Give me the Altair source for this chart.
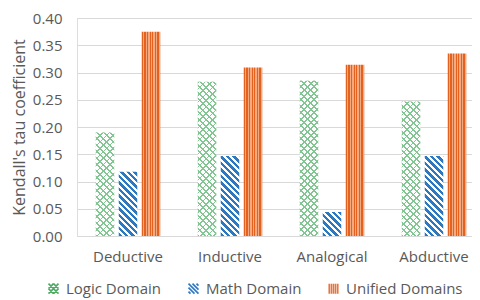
import altair as alt
import pandas as pd

categories = ["Deductive", "Inductive", "Analogical", "Abductive"]
series = ["Logic Domain", "Math Domain", "Unified Domains"]
logic = [0.190, 0.283, 0.285, 0.247]
math = [0.118, 0.147, 0.044, 0.147]
unified = [0.375, 0.309, 0.314, 0.335]
y_ticks = [0.0, 0.05, 0.10, 0.15, 0.20, 0.25, 0.30, 0.35, 0.40]

rows = []
for s, vals in zip(series, [logic, math, unified]):
    for c, v in zip(categories, vals):
        rows.append({"category": c, "series": s, "value": v})
df = pd.DataFrame(rows)

FONT = "Open Sans"
TXT = "#595959"
PLOT_W, PLOT_H, Y_MAX = 395, 218, 0.40
X_RANGE = 408
X_PAD = 0.3676
OFF_PAD = 0.1957
BAR_W = (X_RANGE / 4 * (1 - X_PAD)) / (3 - OFF_PAD) * (1 - OFF_PAD)

GREEN_LINE = "#84c594"
BLUE = "#2e78c0"
OR_DARK = "#e3621f"
OR_LIGHT = "#f5a97e"
CLEAR = "rgba(255,255,255,0)"


def stripes(total, period, on, c_on, c_off):
    stops = []
    pos = 0.0
    while pos < total:
        a, b, c = pos, min(pos + on, total), min(pos + period, total)
        stops += [(a, c_on), (b, c_on)]
        if c > b:
            stops += [(b, c_off), (c, c_off)]
        pos += period
    return [{"offset": round(o / total, 5), "color": col} for o, col in stops]


def diag(value, kind, period, on, c_on, c_off):
    w = BAR_W
    h = value / Y_MAX * PLOT_H
    k = (w + h) / (w * w + h * h)
    if kind == "down":
        g = {"x1": 0, "y1": 1, "x2": round(k * w, 6), "y2": round(1 - k * h, 6)}
    else:
        g = {"x1": 0, "y1": 0, "x2": round(k * w, 6), "y2": round(k * h, 6)}
    g["gradient"] = "linear"
    g["stops"] = stripes(w + h, period, on, c_on, c_off)
    return g


def by_category(grads, default):
    return {
        "condition": [
            {"test": f"datum.category === '{c}'", "value": g}
            for c, g in zip(categories, grads)
        ],
        "value": default,
    }


x_enc = alt.X(
    "category:N",
    sort=categories,
    scale=alt.Scale(range=[0, X_RANGE], paddingInner=X_PAD, paddingOuter=X_PAD / 2),
    axis=alt.Axis(
        title=None, labelAngle=0, ticks=False, domain=True, domainColor="#d9d9d9",
        labelPadding=13, labelFontSize=15, labelColor=TXT, labelFont=FONT, grid=False,
    ),
)
xoff_enc = alt.XOffset(
    "series:N", sort=series,
    scale=alt.Scale(domain=series, paddingInner=OFF_PAD, paddingOuter=0),
)
y_enc = alt.Y(
    "value:Q",
    scale=alt.Scale(domain=[0, Y_MAX], nice=False),
    axis=alt.Axis(
        values=y_ticks, format=".2f", title="Kendall's tau coefficient",
        grid=True, gridColor="#d9d9d9", domain=False, ticks=False,
        labelPadding=15, labelFontSize=15, labelColor=TXT, labelFont=FONT,
        titleFontSize=16, titleFontWeight="normal", titleColor=TXT, titleFont=FONT,
        titlePadding=5,
    ),
)

base = alt.Chart(df)

green1 = base.transform_filter(f"datum.series === '{series[0]}'").mark_bar().encode(
    x=x_enc, xOffset=xoff_enc, y=y_enc,
    fill=by_category([diag(v, "down", 6.5, 1.8, GREEN_LINE, "#ffffff") for v in logic], "#b5dfbf"),
)
green2 = base.transform_filter(f"datum.series === '{series[0]}'").mark_bar().encode(
    x=x_enc, xOffset=xoff_enc, y=y_enc,
    fill=by_category([diag(v, "up", 6.5, 1.8, GREEN_LINE, CLEAR) for v in logic], CLEAR),
)
blue = base.transform_filter(f"datum.series === '{series[1]}'").mark_bar().encode(
    x=x_enc, xOffset=xoff_enc, y=y_enc,
    fill=by_category([diag(v, "down", 6.5, 3.3, BLUE, "#ffffff") for v in math], "#7fb0dc"),
)
orange_grad = {"gradient": "linear", "x1": 0, "y1": 0, "x2": 1, "y2": 0,
               "stops": stripes(BAR_W, 2.6, 1.2, OR_DARK, OR_LIGHT)}
orange = base.transform_filter(f"datum.series === '{series[2]}'").mark_bar().encode(
    x=x_enc, xOffset=xoff_enc, y=y_enc,
    fill=alt.value(orange_grad),
)

paths = [
    "M-1,-1L1,1M0,-1L1,0M-1,0L0,1M-1,1L1,-1M0,-1L-1,0M1,0L0,1",
    "M-1,-1L1,1M-0.2,-1L1,0.2M-1,-0.2L0.2,1M0.6,-1L1,-0.6M-1,0.6L-0.6,1",
    "M-0.85,-1L-0.85,1M-0.42,-1L-0.42,1M0,-1L0,1M0.42,-1L0.42,1M0.85,-1L0.85,1",
]
leg = dict(
    orient="none", legendX=-31, legendY=263, direction="horizontal", title=None,
    labelFont=FONT, labelFontSize=15, labelColor=TXT, symbolSize=100,
    symbolStrokeWidth=1.6, columnPadding=24, labelOffset=5, symbolOpacity=1,
)
legend_layer = base.transform_filter("false").mark_point(filled=False).encode(
    color=alt.Color("series:N", scale=alt.Scale(domain=series, range=["#4daa63", BLUE, "#e8743b"]),
                    legend=alt.Legend(**leg)),
    shape=alt.Shape("series:N", scale=alt.Scale(domain=series, range=paths),
                    legend=alt.Legend(**leg)),
)

chart = alt.layer(green1, green2, blue, orange, legend_layer).properties(
    width=PLOT_W, height=PLOT_H,
    autosize=alt.AutoSizeParams(type="none"),
    padding={"left": 69, "top": 10, "right": 0, "bottom": 64},
).configure_view(strokeWidth=0).configure(font=FONT)

chart.save("out.html", embed_options={"renderer": "svg", "actions": False})
